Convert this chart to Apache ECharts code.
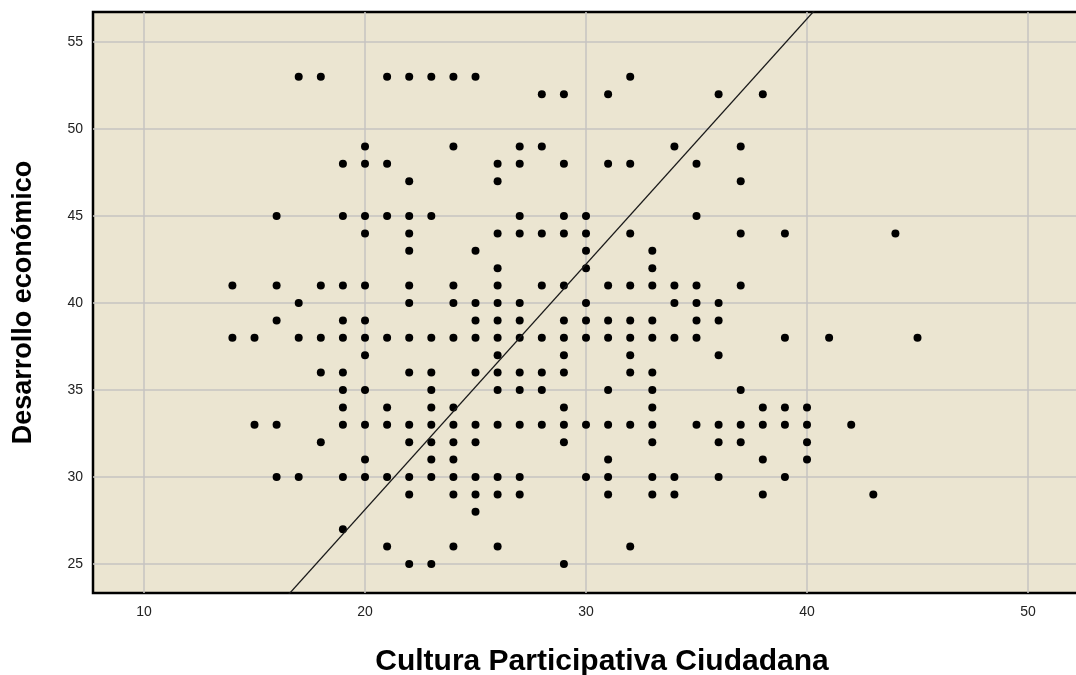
<!DOCTYPE html>
<html>
<head>
<meta charset="utf-8">
<script src="https://cdn.jsdelivr.net/npm/echarts@6/dist/echarts.min.js"></script>
<style>
  html, body { margin: 0; padding: 0; background: #ffffff; }
  #chart { width: 1076px; height: 675px; }
</style>
</head>
<body>
<div id="chart"></div>
<script>
// Desarrollo económico levels (y) and the Cultura Participativa Ciudadana values (x) observed at each level
const yLevels = [53, 52, 49, 48, 47, 45, 44, 43, 42, 41, 40, 39, 38, 37, 36, 35, 34, 33, 32, 31, 30, 29, 28, 27, 26, 25];
const xByLevel = [
  [17, 18, 21, 22, 23, 24, 25, 32],
  [28, 29, 31, 36, 38],
  [20, 24, 27, 28, 34, 37],
  [19, 20, 21, 26, 27, 29, 31, 32, 35],
  [22, 26, 37],
  [16, 19, 20, 21, 22, 23, 27, 29, 30, 35],
  [20, 22, 26, 27, 28, 29, 30, 32, 37, 39, 44],
  [22, 25, 30, 33],
  [26, 30, 33],
  [14, 16, 18, 19, 20, 22, 24, 26, 28, 29, 31, 32, 33, 34, 35, 37],
  [17, 22, 24, 25, 26, 27, 30, 34, 35, 36],
  [16, 19, 20, 25, 26, 27, 29, 30, 31, 32, 33, 35, 36],
  [14, 15, 17, 18, 19, 20, 21, 22, 23, 24, 25, 26, 27, 28, 29, 30, 31, 32, 33, 34, 35, 39, 41, 45],
  [20, 26, 29, 32, 36],
  [18, 19, 22, 23, 25, 26, 27, 28, 29, 32, 33],
  [19, 20, 23, 26, 27, 28, 31, 33, 37],
  [19, 21, 23, 24, 29, 33, 38, 39, 40],
  [15, 16, 19, 20, 21, 22, 23, 24, 25, 26, 27, 28, 29, 30, 31, 32, 33, 35, 36, 37, 38, 39, 40, 42],
  [18, 22, 23, 24, 25, 29, 33, 36, 37, 40],
  [20, 23, 24, 31, 38, 40],
  [16, 17, 19, 20, 21, 22, 23, 24, 25, 26, 27, 30, 31, 33, 34, 36, 39],
  [22, 24, 25, 26, 27, 31, 33, 34, 38, 43],
  [25],
  [19],
  [21, 24, 26, 32],
  [22, 23, 29]
];
// Reference line endpoints
const lineX = [16.5, 40.4];
const lineY = [23.19, 56.9];

const xName = 'Cultura Participativa Ciudadana';
const yName = 'Desarrollo económico';

const points = [];
yLevels.forEach(function (yv, i) {
  xByLevel[i].forEach(function (xv) { points.push([xv, yv]); });
});
const linePts = [[lineX[0], lineY[0]], [lineX[1], lineY[1]]];

const chart = echarts.init(document.getElementById('chart'), null, { renderer: 'canvas' });
const font = '"Liberation Sans", Arial, sans-serif';
chart.setOption({
  animation: false,
  backgroundColor: '#ffffff',
  grid: {
    left: 93, top: 12, right: -3, bottom: 82,
    outerBoundsMode: 'none',
    containLabel: false,
    show: true,
    backgroundColor: '#ebe5d1',
    borderColor: '#000000',
    borderWidth: 2.5
  },
  xAxis: {
    type: 'value',
    min: 7.692, max: 52.307,
    minInterval: 10, maxInterval: 10, splitNumber: 5,
    name: xName,
    nameLocation: 'middle',
    nameGap: 54,
    nameTextStyle: { fontFamily: font, fontSize: 30, fontWeight: 'bold', color: '#000', padding: [0, 0, 0, 32] },
    axisLine: { show: false },
    axisTick: { show: false },
    axisLabel: { showMinLabel: false, showMaxLabel: false, fontFamily: font, fontSize: 14, color: '#222', margin: 12 },
    splitLine: { show: true, showMinLine: false, showMaxLine: false, lineStyle: { color: '#c6c3c0', width: 1.5 } }
  },
  yAxis: {
    type: 'value',
    min: 23.333, max: 56.724,
    minInterval: 5, maxInterval: 5, splitNumber: 7,
    name: yName,
    nameLocation: 'middle',
    nameRotate: 90,
    nameGap: 56,
    nameTextStyle: { fontFamily: font, fontSize: 27, fontWeight: 'bold', color: '#000' },
    axisLine: { show: false },
    axisTick: { show: false },
    axisLabel: { showMinLabel: false, showMaxLabel: false, fontFamily: font, fontSize: 14, color: '#222', margin: 10 },
    splitLine: { show: true, showMinLine: false, showMaxLine: false, lineStyle: { color: '#c6c3c0', width: 1.5 } }
  },
  series: [
    {
      type: 'scatter',
      data: points,
      symbol: 'circle',
      symbolSize: 8,
      itemStyle: { color: '#000000', opacity: 1 },
      z: 3
    },
    {
      type: 'line',
      data: linePts,
      clip: true,
      symbol: 'none',
      lineStyle: { color: '#1a1a1a', width: 1.3 },
      z: 4
    }
  ]
});
</script>
</body>
</html>
